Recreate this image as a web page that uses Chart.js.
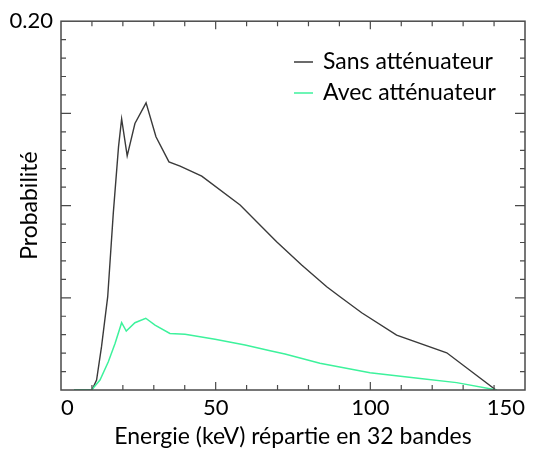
<!DOCTYPE html>
<html>
<head>
<meta charset="utf-8">
<script src="https://cdn.jsdelivr.net/npm/chart.js@4"></script>
<style>
  html, body { margin: 0; padding: 0; background: #fff; }
  #wrap { width: 535px; height: 451px; }
</style>
</head>
<body>
<div id="wrap"><canvas id="spectre" width="535" height="451"></canvas></div>
<script>
// energies (keV) and probabilities
const energieSans = [4.2, 10.0, 11.5, 13.1, 15.1, 16.9, 18.6, 19.6, 21.4, 23.9, 27.5, 30.7, 34.9, 38.5, 45.5, 57.9, 69.7, 77.8, 85.9, 90.2, 97.2, 108.5, 124.7, 140.6];
const probaSans = [0, 0, 0.0054, 0.0235, 0.0506, 0.0958, 0.132, 0.147, 0.127, 0.1445, 0.1557, 0.1373, 0.1237, 0.1214, 0.116, 0.1003, 0.0804, 0.0678, 0.056, 0.0506, 0.0419, 0.0298, 0.0202, 0];

const energieAvec = [4.2, 10.0, 10.5, 12.6, 15.3, 17.5, 19.6, 21.1, 23.9, 27.4, 30.4, 35.2, 40.1, 49.8, 59.5, 67.6, 72.4, 83.7, 99.9, 116.1, 127.9, 140.9];
const probaAvec = [0, 0, 0.0012, 0.0054, 0.0153, 0.0253, 0.0365, 0.032, 0.0365, 0.0389, 0.0352, 0.0307, 0.0302, 0.0275, 0.0244, 0.0213, 0.0195, 0.0145, 0.0094, 0.0063, 0.004, 0];

const xLabels = [0, 50, 100, 150];
const yLabels = [0.2];

const police = "Lato";
const taille = 23;
const tailleTicks = 22;

function pts(xs, ys) {
  return xs.map((x, i) => ({ x: x, y: ys[i] }));
}

// cadre + graduations vers l'intérieur sur les 4 côtés
const cadre = {
  id: "cadre",
  afterDraw(chart) {
    const { ctx, chartArea: a, scales } = chart;
    ctx.save();
    ctx.strokeStyle = "#4a4a4a";
    ctx.lineWidth = 1.5;
    ctx.strokeRect(a.left, a.top, a.right - a.left, a.bottom - a.top);
    ctx.lineWidth = 1.2;
    ctx.beginPath();
    for (let v = 10; v < 150; v += 10) {
      const px = scales.x.getPixelForValue(v);
      const l = v % 50 === 0 ? 8 : 5;
      ctx.moveTo(px, a.bottom); ctx.lineTo(px, a.bottom - l);
      ctx.moveTo(px, a.top); ctx.lineTo(px, a.top + l);
    }
    for (let k = 1; k < 20; k++) {
      const py = scales.y.getPixelForValue(k / 100);
      const l = k % 5 === 0 ? 10 : 5;
      ctx.moveTo(a.left, py); ctx.lineTo(a.left + l, py);
      ctx.moveTo(a.right, py); ctx.lineTo(a.right - l, py);
    }
    ctx.stroke();

    // légende
    const lx = 294, ly = 62, dy = 31;
    chart.data.datasets.forEach((ds, i) => {
      const y = ly + i * dy;
      ctx.strokeStyle = ds.borderColor;
      ctx.lineWidth = 1.5;
      ctx.beginPath();
      ctx.moveTo(lx, y); ctx.lineTo(lx + 19, y);
      ctx.stroke();
      ctx.fillStyle = "#000";
      ctx.font = taille + "px " + police;
      ctx.textBaseline = "middle";
      ctx.fillText(ds.label, lx + 29, y);
    });
    ctx.restore();
  }
};

new Chart(document.getElementById("spectre"), {
  type: "line",
  data: {
    datasets: [
      {
        label: "Sans atténuateur",
        data: pts(energieSans, probaSans),
        borderColor: "#3a3a3a",
        borderWidth: 1.4,
        pointRadius: 0,
        order: 1
      },
      {
        label: "Avec atténuateur",
        data: pts(energieAvec, probaAvec),
        borderColor: "#3df29c",
        borderWidth: 1.5,
        pointRadius: 0,
        order: 0
      }
    ]
  },
  options: {
    responsive: false,
    animation: false,
    layout: { padding: { top: 21, right: 10, left: 0, bottom: 0 } },
    plugins: { legend: { display: false }, tooltip: { enabled: false } },
    scales: {
      x: {
        type: "linear",
        min: 0,
        max: 150,
        afterBuildTicks: (s) => { s.ticks = xLabels.map(v => ({ value: v })); },
        afterFit: (s) => { s.height = 61; },
        grid: { display: false, drawTicks: false },
        border: { display: false },
        ticks: {
          align: "inner",
          padding: 5,
          color: "#000",
          font: { family: police, size: tailleTicks }
        },
        title: {
          display: true,
          text: "Energie (keV) répartie en 32 bandes",
          color: "#000",
          font: { family: police, size: taille },
          padding: { top: 0, bottom: 1 }
        }
      },
      y: {
        min: 0,
        max: 0.2,
        afterBuildTicks: (s) => { s.ticks = yLabels.map(v => ({ value: v })); },
        afterFit: (s) => { s.width = 61; },
        grid: { display: false, drawTicks: false },
        border: { display: false },
        ticks: {
          padding: 8,
          color: "#000",
          font: { family: police, size: tailleTicks },
          callback: (v) => v.toFixed(2)
        },
        title: {
          display: true,
          text: "Probabilité",
          color: "#000",
          font: { family: police, size: taille },
          padding: { top: 16, bottom: 0 }
        }
      }
    }
  },
  plugins: [cadre]
});
</script>
</body>
</html>
